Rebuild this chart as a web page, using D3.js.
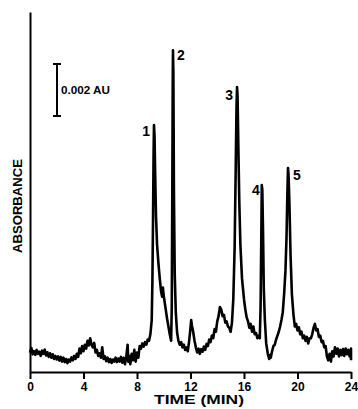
<!DOCTYPE html>
<html><head><meta charset="utf-8">
<script src="https://cdn.jsdelivr.net/npm/d3@7"></script>
<style>html,body{margin:0;padding:0;background:#fff;}svg{display:block;}</style>
</head><body>
<svg id="chart" width="358" height="409"></svg>
<script>
// ---- data ----
const xTicks = [0, 4, 8, 12, 16, 20, 24];
const xLabel = "TIME (MIN)";
const yLabel = "ABSORBANCE";
const scaleBarLabel = "0.002 AU";
const scaleBarMAU = 2; // 0.002 AU expressed in mAU

// retention time (min)
const times = [
 0.0,0.1,0.2,0.3,0.4,0.5,0.6,0.7,0.8,0.9,
 1.0,1.1,1.2,1.3,1.4,1.5,1.6,1.7,1.8,1.9,
 2.0,2.1,2.2,2.3,2.4,2.5,2.6,2.7,2.8,2.9,
 3.0,3.1,3.2,3.3,3.4,3.5,3.6,3.7,3.8,3.9,
 4.0,4.1,4.2,4.3,4.4,4.5,4.6,4.7,4.8,4.9,
 5.0,5.1,5.2,5.3,5.4,5.5,5.6,5.7,5.8,5.9,
 6.0,6.1,6.2,6.3,6.4,6.5,6.6,6.7,6.8,6.9,
 7.0,7.1,7.2,7.3,7.35,7.4,7.5,7.6,7.7,7.8,7.9,
 8.0,8.1,8.2,8.3,8.4,8.5,8.6,8.7,8.8,8.9,
 9.0,9.1,9.15,9.2,9.24,9.27,9.31,9.36,9.42,9.5,9.6,9.7,9.8,9.88,9.94,9.98,
 10.05,10.15,10.25,10.35,10.45,10.55,10.6,10.64,10.67,10.69,10.72,10.76,10.82,10.9,
 11.0,11.1,11.2,11.3,11.4,11.5,11.6,11.7,11.8,11.9,
 12.0,12.05,12.1,12.2,12.3,12.4,12.5,12.6,12.7,12.8,12.9,
 13.0,13.1,13.2,13.3,13.4,13.5,13.6,13.7,13.8,13.9,
 14.0,14.1,14.2,14.3,14.4,14.5,14.6,14.7,14.8,14.9,
 15.0,15.1,15.2,15.3,15.38,15.44,15.48,15.52,15.58,15.65,15.73,15.85,
 16.0,16.1,16.2,16.3,16.4,16.5,16.6,16.7,16.8,16.9,
 17.0,17.1,17.18,17.24,17.29,17.33,17.37,17.42,17.48,17.56,17.66,17.78,17.88,17.94,
 18.0,18.1,18.2,18.3,18.4,18.5,18.6,18.7,18.8,18.9,
 19.0,19.1,19.18,19.24,19.29,19.33,19.4,19.48,19.58,19.7,19.8,19.9,
 20.0,20.1,20.2,20.3,20.4,20.5,20.6,20.7,20.8,20.9,
 21.0,21.1,21.2,21.3,21.4,21.5,21.6,21.7,21.8,21.9,
 22.0,22.1,22.2,22.3,22.4,22.5,22.6,22.7,22.8,22.9,
 23.0,23.1,23.2,23.3,23.4,23.5,23.6,23.7,23.8,23.9,
 24.0,24.0
];
// absorbance (mAU above chart baseline)
const absorbance = [
 0.75,0.92,0.68,0.80,0.66,0.85,0.70,0.78,0.62,0.82,
 0.70,0.86,0.64,0.76,0.58,0.72,0.55,0.68,0.50,0.62,
 0.48,0.60,0.44,0.58,0.40,0.55,0.38,0.50,0.34,0.48,
 0.40,0.56,0.45,0.62,0.50,0.70,0.58,0.90,0.72,1.00,
 0.80,1.05,0.90,1.20,1.02,1.30,1.05,0.95,1.12,0.75,
 0.85,0.62,0.72,0.55,0.95,0.50,0.60,0.42,0.55,0.38,
 0.50,0.35,0.48,0.40,0.55,0.38,0.52,0.40,0.58,0.36,
 0.55,0.30,0.60,1.05,0.40,0.62,0.30,0.70,0.45,0.85,0.40,
 0.75,0.55,1.00,0.90,1.10,0.98,1.15,1.05,1.25,1.20,
 1.45,2.0,3.4,6.0,8.4,9.5,9.1,7.6,6.0,4.9,4.2,3.6,3.1,2.9,3.25,3.0,
 2.75,2.4,2.05,1.75,1.45,1.2,2.5,7.0,11.0,12.38,11.5,7.0,3.8,2.3,
 1.5,1.2,1.05,1.15,0.95,1.05,0.85,0.95,0.80,1.20,
 1.70,2.0,1.80,1.55,1.20,0.95,0.75,0.90,0.70,0.88,0.78,
 0.98,0.85,1.08,1.00,1.25,1.15,1.40,1.30,1.65,1.55,
 1.95,2.15,2.50,2.40,2.15,2.20,1.90,1.95,1.75,1.70,
 1.55,1.9,2.8,4.8,7.8,10.2,10.96,10.6,8.6,6.5,4.9,3.6,
 2.8,2.4,2.1,1.95,1.70,1.85,1.55,1.75,1.45,1.50,
 1.30,1.40,1.30,2.5,5.0,7.19,7.0,5.5,3.2,2.0,1.1,0.70,0.50,0.65,
 0.55,0.80,1.00,1.05,1.25,1.40,1.55,1.75,2.0,2.3,
 3.0,3.9,5.2,6.8,7.85,7.6,6.4,4.5,3.0,2.2,1.75,1.85,
 1.60,1.72,1.45,1.55,1.30,1.40,1.20,1.35,1.10,1.30,
 1.30,1.45,1.70,1.85,1.60,1.65,1.35,1.40,1.15,1.20,
 0.95,1.00,0.60,0.45,0.70,0.40,0.80,0.60,0.95,0.70,
 0.90,0.60,0.85,0.65,0.88,0.62,0.90,0.68,0.85,0.60,
 0.90,0.45
];

// peak annotations
const peakNames = ["1", "2", "3", "4", "5"];
const peakTimes = [9.27, 10.69, 15.48, 17.33, 19.29];
const peakHeights = [9.5, 12.38, 10.96, 7.19, 7.85];

// ---- layout / style ----
const svg = d3.select("#chart");
const font = "'Liberation Sans', Arial, sans-serif";
const x = d3.scaleLinear().domain([0, 24]).range([30, 351]);
const y = d3.scaleLinear().domain([0, 13.85]).range([372, 12]);

svg.append("rect").attr("width", 358).attr("height", 409).attr("fill", "#fff");

// x axis
const xAxis = svg.append("g").attr("transform", `translate(0,${y(0)})`)
  .call(d3.axisBottom(x).tickValues(xTicks).tickSize(7).tickSizeOuter(0).tickPadding(3).tickFormat(d3.format("d")));
xAxis.select(".domain").attr("stroke", "#000").attr("stroke-width", 2);
xAxis.selectAll(".tick line").attr("stroke", "#000").attr("stroke-width", 2);
xAxis.selectAll(".tick text").attr("fill", "#000").style("font-family", font)
  .style("font-size", "12px").style("font-weight", "bold");

// y axis (no ticks)
const yAxis = svg.append("g").attr("transform", `translate(${x(0)},0)`)
  .call(d3.axisLeft(y).tickValues([]).tickSizeOuter(0));
yAxis.select(".domain").attr("stroke", "#000").attr("stroke-width", 2);

// axis titles
svg.append("text").attr("x", 199).attr("y", 404).attr("text-anchor", "middle")
  .attr("textLength", 90).attr("lengthAdjust", "spacingAndGlyphs")
  .style("font-family", font).style("font-size", "12px").style("font-weight", "bold")
  .text(xLabel);
svg.append("text").attr("transform", "translate(22,206) rotate(-90)").attr("text-anchor", "middle")
  .attr("textLength", 94).attr("lengthAdjust", "spacingAndGlyphs")
  .style("font-family", font).style("font-size", "12px").style("font-weight", "bold")
  .text(yLabel);

// scale bar
const barX = 57, barTop = 64;
const barPx = y(0) - y(scaleBarMAU);
const bar = svg.append("g").attr("stroke", "#000").attr("stroke-width", 2);
bar.append("line").attr("x1", barX).attr("x2", barX).attr("y1", barTop).attr("y2", barTop + barPx);
bar.append("line").attr("x1", barX - 4).attr("x2", barX + 4).attr("y1", barTop).attr("y2", barTop);
bar.append("line").attr("x1", barX - 4).attr("x2", barX + 4).attr("y1", barTop + barPx).attr("y2", barTop + barPx);
svg.append("text").attr("x", barX + 4).attr("y", barTop + barPx / 2 + 4)
  .attr("textLength", 49).attr("lengthAdjust", "spacingAndGlyphs")
  .style("font-family", font).style("font-size", "11px").style("font-weight", "bold")
  .text(scaleBarLabel);

// chromatogram trace
const pts = d3.zip(times, absorbance);
svg.append("path").datum(pts)
  .attr("fill", "none").attr("stroke", "#000").attr("stroke-width", 2.6)
  .attr("stroke-linejoin", "round")
  .attr("d", d3.line().x(d => x(d[0])).y(d => y(d[1])));

// peak labels
const labelDx = [-4, 4, -4, -2, 5];
const labelDy = [11, 10, 13, 10, 12];
const labelAnchor = ["end", "start", "end", "end", "start"];
svg.append("g").selectAll("text").data(peakNames).join("text")
  .attr("x", (d, i) => x(peakTimes[i]) + labelDx[i])
  .attr("y", (d, i) => y(peakHeights[i]) + labelDy[i])
  .attr("text-anchor", (d, i) => labelAnchor[i])
  .style("font-family", font).style("font-size", "14px").style("font-weight", "bold")
  .text(d => d);
</script>
</body></html>
